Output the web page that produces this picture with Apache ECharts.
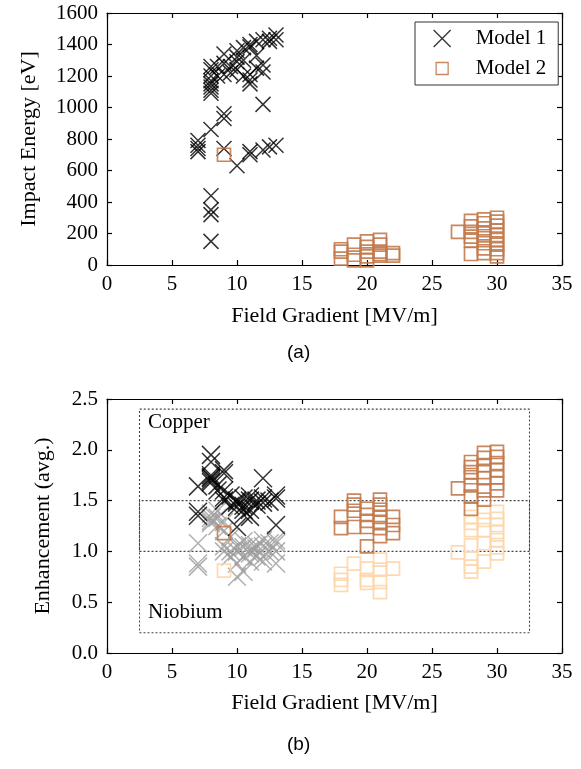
<!DOCTYPE html>
<html>
<head>
<meta charset="utf-8">
<script src="https://cdn.jsdelivr.net/npm/echarts@6/dist/echarts.min.js"></script>
<style>html,body{margin:0;padding:0;background:#fff}#c{width:581px;height:769px}</style>
</head>
<body>
<div id="c"></div>
<script>
// ---------- data ----------
var xTicks = [0, 5, 10, 15, 20, 25, 30, 35];
var energyTicks = [0, 200, 400, 600, 800, 1000, 1200, 1400, 1600];
var enhTicks = [0.0, 0.5, 1.0, 1.5, 2.0, 2.5];

// (a) Impact energy
var energyModel1 = [
  [7,720],[7,740],[7,760],[7,790],
  [8,150],[8,320],[8,350],[8,440],[8,860],[8,1090],[8,1110],[8,1130],[8,1150],[8,1170],[8,1200],[8,1240],[8,1260],
  [8.5,1200],[8.5,1260],
  [9,740],[9,930],[9,960],[9,1210],[9,1280],[9,1340],
  [9.5,1260],[9.5,1220],
  [10,630],[10,1240],[10,1290],[10,1320],[10,1360],
  [10.5,1200],[10.5,1300],[10.5,1380],
  [11,700],[11,720],[11,1150],[11,1175],[11,1210],[11,1385],[11,1400],
  [11.5,1250],[11.5,1330],[11.5,1420],
  [12,730],[12,1020],[12,1225],[12,1270],[12,1430],
  [12.5,750],[12.5,1420],[12.5,1440],
  [13,760],[13,1430],[13,1460]
];
var energyModel2 = [
  [9,700],
  [18,40],[18,85],[18,100],
  [19,30],[19,65],[19,130],
  [20,30],[20,55],[20,85],[20,115],[20,150],
  [21,60],[21,70],[21,85],[21,130],[21,160],
  [22,60],[22,75],
  [27,210],
  [28,70],[28,155],[28,180],[28,210],[28,245],[28,280],
  [29,75],[29,106],[29,138],[29,170],[29,201],[29,233],[29,265],[29,290],
  [30,55],[30,75],[30,100],[30,130],[30,160],[30,190],[30,220],[30,250],[30,275],[30,300]
];

// (b) Enhancement
var enhModel1Copper = [
  [7,1.64],[7,1.39],[7,1.35],
  [8,1.95],[8,1.88],[8,1.75],[8,1.72],[8,1.70],[8,1.68],[8,1.73],
  [8.5,1.65],[8.5,1.60],
  [9,1.80],[9,1.77],[9,1.60],[9,1.53],[9,1.50],
  [9.5,1.55],[9.5,1.45],
  [10,1.50],[10,1.48],[10,1.44],[10,1.24],
  [10.5,1.52],[10.5,1.45],[10.5,1.41],[10.5,1.36],
  [11,1.54],[11,1.50],[11,1.41],[11,1.34],
  [11.5,1.50],[11.5,1.46],
  [12,1.72],[12,1.48],[12,1.52],
  [12.5,1.49],
  [13,1.55],[13,1.52],[13,1.26]
];
var enhModel1Niobium = [
  [7,1.08],[7,0.88],[7,0.85],
  [8,1.37],[8,1.33],[8,1.30],[8,1.28],
  [8.5,1.40],[8.5,1.33],[8.5,1.25],
  [9,1.29],[9,1.20],[9,1.05],[9,1.00],
  [9.5,1.14],[9.5,1.00],[9.5,0.95],
  [10,1.05],[10,1.00],[10,0.88],[10,0.75],
  [10.5,1.10],[10.5,1.04],[10.5,0.95],[10.5,0.80],
  [11,1.06],[11,1.01],[11,0.98],[11,0.90],
  [11.5,1.06],[11.5,1.03],[11.5,0.95],
  [12,1.11],[12,1.05],[12,0.95],[12,0.90],
  [12.5,1.08],[12.5,1.00],
  [13,1.11],[13,1.08],[13,1.00],[13,0.88]
];
var enhModel2Copper = [
  [9,1.18],
  [18,1.34],[18,1.23],
  [19,1.50],[19,1.46],[19,1.40],[19,1.24],
  [20,1.42],[20,1.36],[20,1.30],[20,1.24],[20,1.05],
  [21,1.51],[21,1.46],[21,1.41],[21,1.34],[21,1.29],[21,1.23],[21,1.15],
  [22,1.34],[22,1.26],[22,1.18],
  [27,1.62],
  [28,1.88],[28,1.83],[28,1.78],[28,1.73],[28,1.65],[28,1.54],[28,1.42],
  [29,1.97],[29,1.92],[29,1.85],[29,1.78],[29,1.72],[29,1.60],[29,1.51],
  [30,1.98],[30,1.93],[30,1.87],[30,1.80],[30,1.73],[30,1.67],[30,1.60]
];
var enhModel2Niobium = [
  [9,0.81],
  [18,0.78],[18,0.72],[18,0.67],
  [19,0.88],
  [20,0.83],[20,0.72],[20,0.69],
  [21,0.92],[21,0.82],[21,0.70],[21,0.60],
  [22,0.83],
  [27,0.99],
  [28,1.34],[28,1.28],[28,1.21],[28,1.06],[28,0.93],[28,0.85],[28,0.80],
  [29,1.39],[29,1.31],[29,1.21],[29,1.08],[29,0.90],
  [30,1.39],[30,1.32],[30,1.26],[30,1.19],[30,1.11],[30,1.04],[30,0.98]
];
// region boxes in (b)
var copperBox = [[2.5,1.0],[32.5,1.0],[32.5,2.4],[2.5,2.4],[2.5,1.0]];
var niobiumBox = [[2.5,0.2],[32.5,0.2],[32.5,1.5],[2.5,1.5],[2.5,0.2]];

// ---------- styles ----------
var SERIF = '"Liberation Serif", "Times New Roman", serif';
var BLACK = '#000000', GRAY = '#9c9c9c', BROWN = '#c27a4c', PEACH = '#fdd6ab';
var CROSS = 'path://M0,0L10,10M10,0L0,10';
var LEG_SQUARE = 'path://M0,0M17,17M2.5,2.5L14.5,2.5L14.5,14.5L2.5,14.5Z';

function xAx(gi, bottom, showName) {
  return {
    type: 'value', gridIndex: gi, min: 0, max: 35, interval: 5,
    position: bottom ? 'bottom' : 'top',
    name: showName ? 'Field Gradient [MV/m]' : '',
    nameLocation: 'middle', nameGap: gi === 0 ? 40 : 39,
    nameTextStyle: {fontFamily: SERIF, fontSize: 22, color: '#000'},
    axisLine: {show: true, onZero: false, lineStyle: {color: '#000', width: 1.2}},
    axisTick: {show: true, inside: true, length: 5, lineStyle: {color: '#000', width: 1.2}},
    axisLabel: {show: bottom, margin: 9, fontFamily: SERIF, fontSize: 21, color: '#000'},
    splitLine: {show: false}
  };
}
function yAx(gi, left, max, interval, name, gap, fmt) {
  return {
    type: 'value', gridIndex: gi, min: 0, max: max, interval: interval,
    position: left ? 'left' : 'right',
    name: left ? name : '', nameLocation: 'middle', nameGap: gap,
    nameTextStyle: {fontFamily: SERIF, fontSize: 22, color: '#000'},
    axisLine: {show: true, onZero: false, lineStyle: {color: '#000', width: 1.2}},
    axisTick: {show: true, inside: true, length: 5, lineStyle: {color: '#000', width: 1.2}},
    axisLabel: {show: left, margin: 9, fontFamily: SERIF, fontSize: 21, color: '#000', formatter: fmt},
    splitLine: {show: false}
  };
}
function crossSeries(name, data, color, xi, yi, size) {
  return {
    name: name, type: 'scatter', xAxisIndex: xi, yAxisIndex: yi, data: data,
    symbol: CROSS, symbolSize: size,
    itemStyle: {color: 'rgba(0,0,0,0)', borderColor: color, borderWidth: 1.5},
    emphasis: {disabled: true}, silent: true, z: 3
  };
}
function squareSeries(name, data, color, xi, yi) {
  return {
    name: name, type: 'scatter', xAxisIndex: xi, yAxisIndex: yi, data: data,
    symbol: 'rect', symbolSize: 13,
    itemStyle: {color: 'rgba(0,0,0,0)', borderColor: color, borderWidth: 1.7, opacity: 0.9},
    emphasis: {disabled: true}, silent: true, z: 4
  };
}
function boxSeries(data) {
  return {
    type: 'line', xAxisIndex: 2, yAxisIndex: 2, data: data, symbol: 'none',
    lineStyle: {color: '#444', width: 1.1, type: [2, 2]},
    silent: true, z: 1, animation: false
  };
}

var chart = echarts.init(document.getElementById('c'), null, {renderer: 'canvas'});
chart.setOption({
  animation: false,
  backgroundColor: '#fff',
  grid: [
    {left: 107, right: 19, top: 13, height: 252},
    {left: 107, right: 19, top: 399, height: 254}
  ],
  xAxis: [xAx(0, true, true), xAx(0, false, false), xAx(1, true, true), xAx(1, false, false)],
  yAxis: [
    yAx(0, true, 1600, 200, 'Impact Energy [eV]', 67, function (v) { return String(v); }),
    yAx(0, false, 1600, 200, '', 0),
    yAx(1, true, 2.5, 0.5, 'Enhancement (avg.)', 53, function (v) { return v.toFixed(1); }),
    yAx(1, false, 2.5, 0.5, '', 0)
  ],
  legend: {
    orient: 'vertical', left: 415, top: 22,
    width: 139,
    backgroundColor: '#fff', borderColor: '#333', borderWidth: 1,
    padding: [6, 12, 6, 18], itemGap: 9, itemWidth: 17, itemHeight: 17,
    textStyle: {fontFamily: SERIF, fontSize: 21, color: '#000', padding: [0, 0, 0, 20]},
    selectedMode: false,
    data: [
      {name: 'Model 1', icon: CROSS, itemStyle: {color: 'rgba(0,0,0,0)', borderColor: BLACK, borderWidth: 1.3}},
      {name: 'Model 2', icon: LEG_SQUARE, itemStyle: {color: 'rgba(0,0,0,0)', borderColor: BROWN, borderWidth: 1.3}}
    ]
  },
  graphic: [
    {type: 'text', left: 148, top: 412, style: {text: 'Copper', font: '21px ' + SERIF, fill: '#000'}, z: 10},
    {type: 'text', left: 148, top: 602, style: {text: 'Niobium', font: '21px ' + SERIF, fill: '#000'}, z: 10},
    {type: 'text', left: 287, top: 343, style: {text: '(a)', font: '19px "Liberation Sans", Arial, sans-serif', fill: '#000'}},
    {type: 'text', left: 287, top: 735, style: {text: '(b)', font: '19px "Liberation Sans", Arial, sans-serif', fill: '#000'}}
  ],
  series: [
    crossSeries('Model 1', energyModel1, BLACK, 0, 0, 15),
    squareSeries('Model 2', energyModel2, BROWN, 0, 0),
    boxSeries(copperBox),
    boxSeries(niobiumBox),
    crossSeries('Model 1 Nb', enhModel1Niobium, GRAY, 2, 2, 18),
    crossSeries('Model 1 Cu', enhModel1Copper, BLACK, 2, 2, 18),
    squareSeries('Model 2 Nb', enhModel2Niobium, PEACH, 2, 2),
    squareSeries('Model 2 Cu', enhModel2Copper, BROWN, 2, 2)
  ]
});
</script>
</body>
</html>
